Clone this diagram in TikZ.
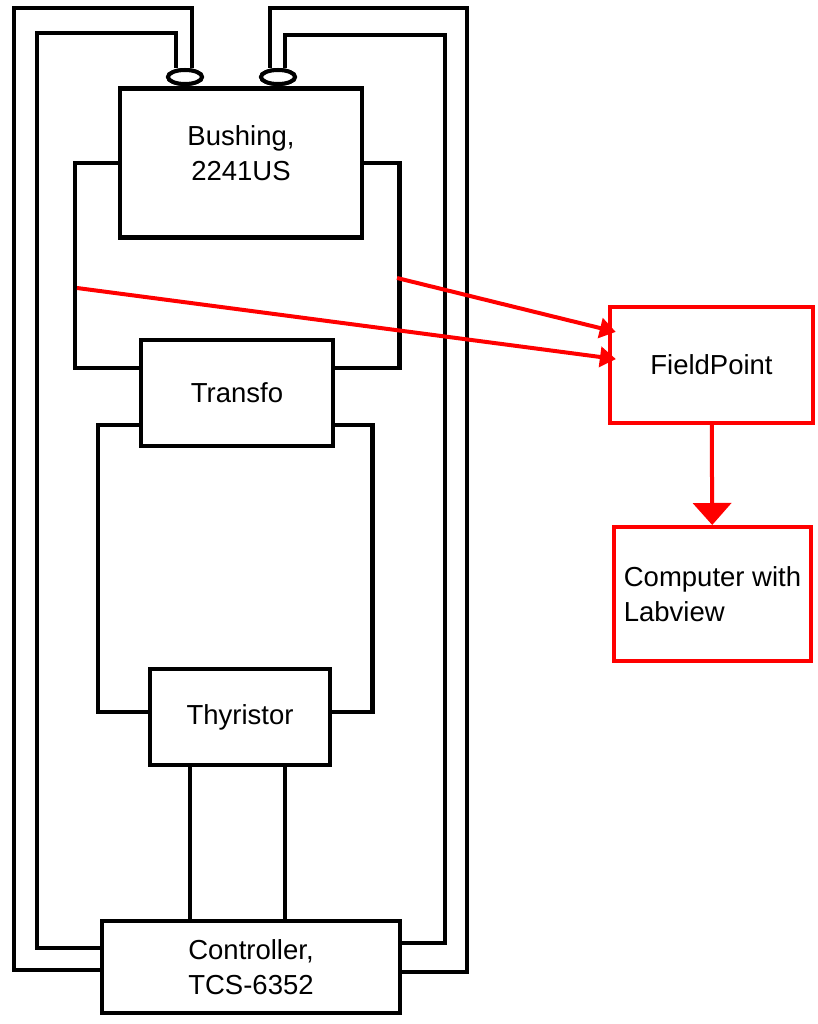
\documentclass[tikz,border=0pt]{standalone}
\usepackage{fontspec}
\setmainfont{Liberation Sans}
\usepackage{tikz}
\usetikzlibrary{shapes.geometric, arrows.meta}
\definecolor{sigred}{RGB}{255,0,0}
\tikzstyle{device} = [rectangle, draw=black, line width=4.5pt, fill=white, align=center, inner sep=0pt]
\tikzstyle{daq} = [rectangle, draw=sigred, line width=4pt, fill=white, align=center, inner sep=0pt]
\tikzstyle{terminal} = [ellipse, draw=black, line width=4pt, fill=white, minimum width=34pt, minimum height=14pt, inner sep=0pt]
\tikzstyle{wire} = [draw=black, line width=4.5pt]
\tikzstyle{signal} = [draw=sigred, line width=4pt, -{Triangle[width=20pt,length=16pt]}, shorten >=-8pt]

\begin{document}
\begin{tikzpicture}[x=1pt, y=-1pt, every node/.style={font=\fontsize{27.5}{35}\selectfont}]
        \useasboundingbox (0,0) rectangle (817,1024);

        \node (bushing) [device, minimum width=242pt, minimum height=149pt, label={[name=bushlbl, yshift=10pt, align=center]center:Bushing,\\2241US}] at (241,163) {};
        \node (transfo) [device, minimum width=192pt, minimum height=106pt] at (237,393) {Transfo};
        \node (thyr) [device, minimum width=180pt, minimum height=96pt] at (240,717) {Thyristor};
        \node (ctrl) [device, minimum width=298pt, minimum height=92pt] at (251,967) {Controller,\\TCS-6352};
        \node (fp) [daq, minimum width=203pt, minimum height=116pt] at (711.5,365) {FieldPoint};
        \node (pc) [daq, align=left, minimum width=197pt, minimum height=134pt] at (712.5,594) {Computer with\\Labview};

        % power loop round the outside
        \node (lterm) [terminal] at (185,77) {};
        \node (rterm) [terminal] at (278,77) {};
        \draw [wire] ([xshift=7pt]lterm.north) |- (14,8) |- ([yshift=-3pt]ctrl.west);
        \draw [wire] ([xshift=-9pt]lterm.north) |- (37,33) |- ([yshift=19pt]ctrl.west);
        \draw [wire] ([xshift=-8pt]rterm.north) |- (467,8) |- ([yshift=-5pt]ctrl.east);
        \draw [wire] ([xshift=7pt]rterm.north) |- (445,35) |- ([yshift=24pt]ctrl.east);
        \node [terminal] at (lterm) {};
        \node [terminal] at (rterm) {};

        % bushing -> transfo -> thyristor -> controller
        \draw [wire] (bushing.west) -- ++(-43pt,0) |- ([yshift=25pt]transfo.west);
        \draw [wire] (bushing.east) -- ++(35pt,0) |- ([yshift=25pt]transfo.east);
        \draw [wire] ([yshift=-32pt]transfo.west) -- ++(-41pt,0) |- ([yshift=5pt]thyr.west);
        \draw [wire] ([yshift=-32pt]transfo.east) -- ++(37pt,0) |- ([yshift=5pt]thyr.east);
        \draw [wire] ([xshift=-50pt]thyr.south) -- ([xshift=-50pt]thyr.south |- ctrl.north);
        \draw [wire] ([xshift=45pt]thyr.south) -- ([xshift=45pt]thyr.south |- ctrl.north);

        % measurement
        \coordinate (tapl) at (77,288);
        \coordinate (tapr) at (397,278);
        \draw [signal] (tapl) -- ([yshift=7pt]fp.west);
        \draw [signal] (tapr) -- ([yshift=35pt]fp.west);
        \draw [signal, -{Triangle[width=38pt,length=22pt]}, shorten >=0pt] (fp) -- (pc);
\end{tikzpicture}
\end{document}
